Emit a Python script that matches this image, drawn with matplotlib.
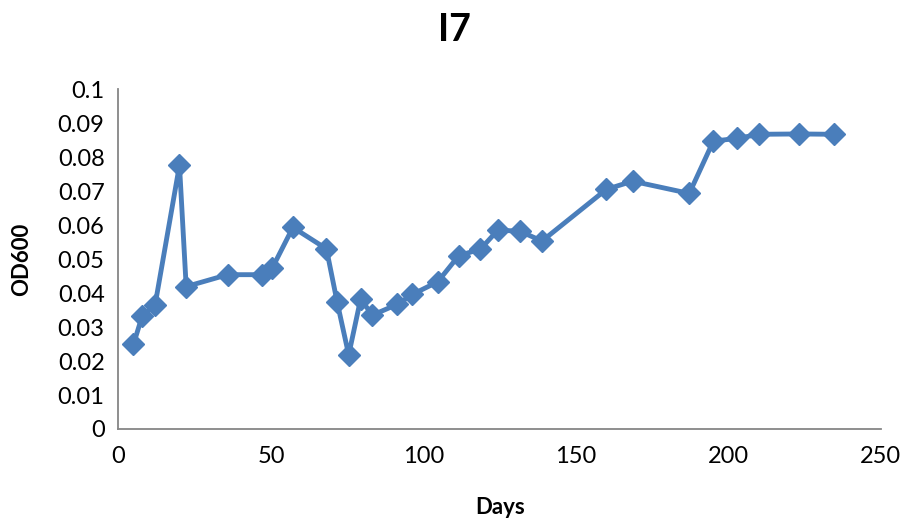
import matplotlib
matplotlib.use("Agg")
import matplotlib.pyplot as plt

# data
days = [4.9, 7.8, 12.0, 20.0, 22.2, 35.8, 47.2, 50.4, 57.2, 68.2,
        71.7, 75.5, 79.4, 83.3, 91.5, 96.4, 104.7, 111.6, 118.7, 124.4,
        131.6, 138.9, 160.0, 168.6, 187.2, 195.1, 203.0, 210.1, 223.1, 234.6]
od600 = [0.0249, 0.0333, 0.0365, 0.0776, 0.0419, 0.0454, 0.0454, 0.0473, 0.0593, 0.0530,
         0.0374, 0.0218, 0.0382, 0.0335, 0.0367, 0.0396, 0.0433, 0.0510, 0.0529, 0.0585,
         0.0582, 0.0553, 0.0705, 0.0729, 0.0693, 0.0847, 0.0855, 0.0867, 0.0868, 0.0867]
x_ticks = [0, 50, 100, 150, 200, 250]
y_ticks = [0, 0.01, 0.02, 0.03, 0.04, 0.05, 0.06, 0.07, 0.08, 0.09, 0.1]
y_tick_labels = ["0", "0.01", "0.02", "0.03", "0.04", "0.05", "0.06", "0.07", "0.08", "0.09", "0.1"]

plt.rcParams['font.family'] = ['Lato', 'DejaVu Sans']

fig = plt.figure(figsize=(9.08, 5.21), dpi=100)
ax = fig.add_axes([0.1305, 0.1766, 0.8395, 0.6524])

ax.plot(days, od600, color="#4A7EBB", linewidth=3.5, marker="D",
        markersize=11, markerfacecolor="#4A7EBB", markeredgecolor="#4A7EBB")

ax.set_xlim(0, 250)
ax.set_ylim(0, 0.1)
ax.set_xticks(x_ticks)
ax.set_yticks(y_ticks)
ax.set_yticklabels(y_tick_labels)
ax.tick_params(length=0, labelsize=17)
ax.tick_params(axis="y", pad=10)
ax.tick_params(axis="x", pad=12)

for s in ["top", "right"]:
    ax.spines[s].set_visible(False)
for s in ["left", "bottom"]:
    ax.spines[s].set_color("#868686")
    ax.spines[s].set_linewidth(1.3)

ax.set_xlabel("Days", fontsize=16, fontweight="bold", labelpad=22)
ax.set_ylabel("OD600", fontsize=16, fontweight="bold", labelpad=18)
fig.text(0.5, 0.943, "I7", ha="center", va="center", fontsize=27, fontweight="bold")

fig.savefig("out.png", dpi=100)
